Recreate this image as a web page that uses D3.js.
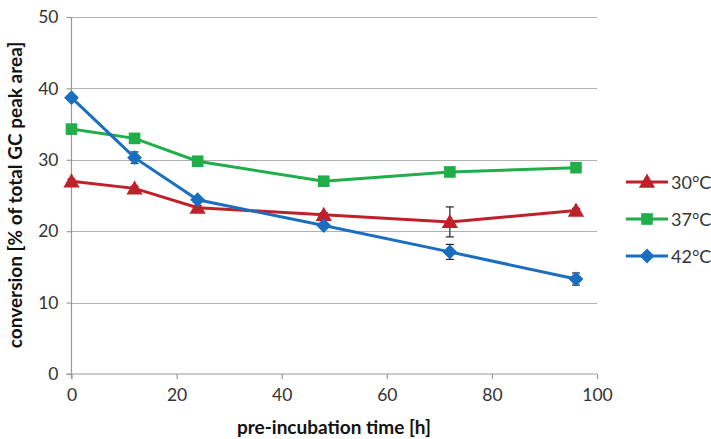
<!DOCTYPE html>
<html>
<head>
<meta charset="utf-8">
<script src="https://cdn.jsdelivr.net/npm/d3@7"></script>
<style>
  html, body { margin: 0; padding: 0; background: #fff; }
  svg text { font-family: Lato, "Open Sans", sans-serif; }
</style>
</head>
<body>
<svg id="chart" width="711" height="439"></svg>
<script>
// Pre-incubation time points [h]
const times = [0, 12, 24, 48, 72, 96];

// Conversion [% of total GC peak area] per incubation temperature
const series30 = [27.0, 26.0, 23.3, 22.3, 21.3, 22.9];
const series37 = [34.3, 33.0, 29.8, 27.0, 28.3, 28.9];
const series42 = [38.7, 30.3, 24.4, 20.8, 17.1, 13.3];

// Standard deviations (error bars)
const err30 = [0.3, 0.3, 0.3, 0.3, 2.1, 0.3];
const err37 = [0.3, 0.3, 0.3, 0.3, 0.3, 0.3];
const err42 = [0.3, 0.8, 0.3, 0.3, 1.05, 0.85];

const seriesNames = ["30°C", "37°C", "42°C"];
const seriesColors = ["#c0202a", "#1fae4a", "#1a6ebf"];
const seriesShapes = ["triangle", "square", "diamond"];

const xTicks = [0, 20, 40, 60, 80, 100];
const yTicks = [0, 10, 20, 30, 40, 50];

const svg = d3.select("#chart");

const x = d3.scaleLinear().domain([0, 100]).range([71.5, 597]);
const y = d3.scaleLinear().domain([0, 50]).range([374, 17]);

// Horizontal gridlines
svg.append("g")
  .selectAll("line")
  .data(yTicks.filter(d => d > 0))
  .join("line")
  .attr("x1", x(0)).attr("x2", x(100))
  .attr("y1", d => Math.round(y(d)) + 0.5).attr("y2", d => Math.round(y(d)) + 0.5)
  .attr("stroke", "#b0b0b0").attr("stroke-width", 1.2);

// Y axis
const yAxis = svg.append("g")
  .attr("transform", `translate(${x(0)},0)`)
  .call(d3.axisLeft(y).tickValues(yTicks).tickSize(5).tickPadding(8).tickFormat(d3.format("d")));
yAxis.select(".domain").attr("stroke", "#999").attr("stroke-width", 1.2).attr("d", `M-0,${y(50)}V${y(0) + 5}`);
yAxis.selectAll(".tick line").attr("stroke", "#999").attr("stroke-width", 1.2);
yAxis.selectAll(".tick text").attr("fill", "#333").style("font-size", "17.5px");

// X axis
const xAxis = svg.append("g")
  .attr("transform", `translate(0,${y(0)})`)
  .call(d3.axisBottom(x).tickValues(xTicks).tickSize(5).tickPadding(10).tickFormat(d3.format("d")));
xAxis.select(".domain").attr("stroke", "#999").attr("stroke-width", 1.2).attr("d", `M${x(0) - 5},0H${x(100)}`);
xAxis.selectAll(".tick line").attr("stroke", "#999").attr("stroke-width", 1.2);
xAxis.selectAll(".tick text").attr("fill", "#333").style("font-size", "17.5px");

// Axis titles
svg.append("text")
  .attr("x", 334).attr("y", 434)
  .attr("text-anchor", "middle")
  .style("font-size", "19px").style("font-weight", "bold")
  .attr("fill", "#111")
  .text("pre-incubation time [h]");

svg.append("text")
  .attr("transform", "translate(22,195) rotate(-90)")
  .attr("text-anchor", "middle")
  .style("font-size", "19px").style("font-weight", "bold")
  .attr("fill", "#111")
  .text("conversion [% of total GC peak area]");

// Marker shapes: triangle, square, and a square rotated 45° for the diamond
const diamondType = {
  draw(ctx, size) {
    const r = Math.sqrt(size / 2);
    ctx.moveTo(0, -r);
    ctx.lineTo(r, 0);
    ctx.lineTo(0, r);
    ctx.lineTo(-r, 0);
    ctx.closePath();
  }
};
const symbolFor = {
  triangle: d3.symbol().type(d3.symbolTriangle).size(115),
  square: d3.symbol().type(d3.symbolSquare).size(135),
  diamond: d3.symbol().type(diamondType).size(110)
};

const allSeries = [series30, series37, series42];
const allErr = [err30, err37, err42];

const line = d3.line().x(d => x(d[0])).y(d => y(d[1]));

// Error bars first, so markers sit on top of them
allSeries.forEach((vals, i) => {
  const pts = times.map((t, j) => [t, vals[j], allErr[i][j]]);
  const eg = svg.append("g").attr("stroke", "#222").attr("stroke-width", 1.2);
  pts.forEach(d => {
    const cx = x(d[0]);
    const y1 = y(d[1] + d[2]), y2 = y(d[1] - d[2]);
    eg.append("line").attr("x1", cx).attr("x2", cx).attr("y1", y1).attr("y2", y2);
    eg.append("line").attr("x1", cx - 4).attr("x2", cx + 4).attr("y1", y1).attr("y2", y1);
    eg.append("line").attr("x1", cx - 4).attr("x2", cx + 4).attr("y1", y2).attr("y2", y2);
  });
});

allSeries.forEach((vals, i) => {
  const pts = times.map((t, j) => [t, vals[j], allErr[i][j]]);
  const g = svg.append("g");
  g.append("path")
    .datum(pts)
    .attr("d", line)
    .attr("fill", "none")
    .attr("stroke", seriesColors[i])
    .attr("stroke-width", 3);
  g.selectAll("path.mk")
    .data(pts)
    .join("path")
    .attr("class", "mk")
    .attr("transform", d => `translate(${x(d[0])},${y(d[1]) + (seriesShapes[i] === "triangle" ? 1.5 : 0)})`)
    .attr("d", symbolFor[seriesShapes[i]])
    .attr("fill", seriesColors[i]);
});

// Legend
const legendY = [182, 219, 256];
const legend = svg.append("g");
seriesNames.forEach((name, i) => {
  const g = legend.append("g").attr("transform", `translate(0,${legendY[i]})`);
  g.append("line").attr("x1", 626).attr("x2", 668).attr("y1", 0).attr("y2", 0)
    .attr("stroke", seriesColors[i]).attr("stroke-width", 3);
  g.append("path")
    .attr("transform", `translate(647,${seriesShapes[i] === "triangle" ? 1 : 0})`)
    .attr("d", symbolFor[seriesShapes[i]])
    .attr("fill", seriesColors[i]);
  g.append("text").attr("x", 671).attr("y", 6.5)
    .style("font-size", "18px").attr("fill", "#333")
    .text(name);
});
</script>
</body>
</html>
